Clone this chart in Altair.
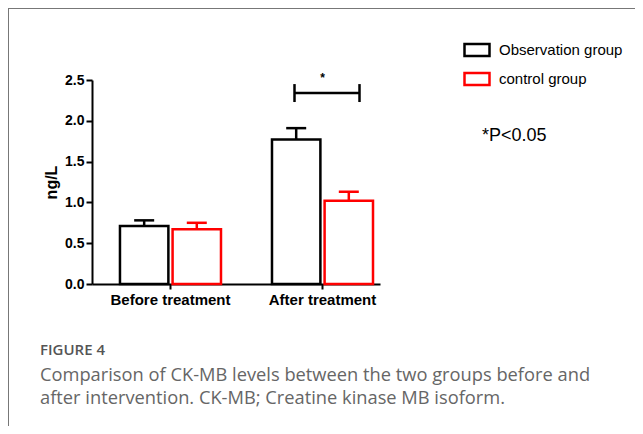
import altair as alt
import pandas as pd

groups = ["Before treatment", "After treatment"]
series = ["Observation group", "control group"]
mean_obs = [0.71, 1.77]
mean_ctrl = [0.67, 1.02]
upper_obs = [0.78, 1.91]
upper_ctrl = [0.75, 1.13]
y_ticks = [0.0, 0.5, 1.0, 1.5, 2.0, 2.5]
sig_group = ["After treatment"]
sig_y = [2.34]
sig_y_low = [2.23]
sig_y_high = [2.45]
star_y = [2.52]
note_text = ["*P<0.05"]
caption_title = ["FIGURE 4"]
caption_lines = [
    "Comparison of CK-MB levels between the two groups before and",
    "after intervention. CK-MB; Creatine kinase MB isoform.",
]

rows = []
for i, g in enumerate(groups):
    rows.append(dict(group=g, series=series[0], mean=mean_obs[i], upper=upper_obs[i]))
    rows.append(dict(group=g, series=series[1], mean=mean_ctrl[i], upper=upper_ctrl[i]))
df = pd.DataFrame(rows)

sig_df = pd.DataFrame(dict(group=sig_group, y=sig_y, ylo=sig_y_low, yhi=sig_y_high, star=star_y))

FONT = "Liberation Sans"
W, H = 288, 204
PAD = dict(left=84, top=72, right=255, bottom=142)

x_enc = alt.X(
    "group:N", sort=groups,
    scale=alt.Scale(domain=groups, paddingInner=0.3355, paddingOuter=0.115, align=0.8),
    axis=alt.Axis(title=None, labelAngle=0, labelFont=FONT, labelFontSize=15, labelFontWeight="bold",
                  labelColor="black", domainColor="black", domainWidth=2, tickColor="black",
                  tickWidth=2, tickSize=5, labelPadding=3),
)
y_scale = alt.Scale(domain=[0, 2.5], nice=False, zero=True)
y_enc = alt.Y(
    "mean:Q", scale=y_scale,
    axis=alt.Axis(title="ng/L", values=y_ticks, format=".1f", grid=False, labelFont=FONT,
                  labelFontSize=14, labelFontWeight="bold", labelColor="black",
                  domainColor="black", domainWidth=2, tickColor="black", tickWidth=2,
                  tickSize=6, labelPadding=2, titleFont=FONT, titleFontSize=16,
                  titleFontWeight="bold", titleColor="black", titlePadding=5),
)
xoff = alt.XOffset("series:N", sort=series,
                   scale=alt.Scale(domain=series, paddingInner=0.08, paddingOuter=0))
stroke_scale = alt.Scale(domain=series, range=["#000000", "#ff0000"])
legend_spec = alt.Legend(title=None, orient="none", legendX=371, legendY=-44, padding=0,
                         symbolType="M-1,-0.48H1V0.48H-1Z", symbolSize=625,
                         symbolStrokeWidth=2.5, labelFont=FONT,
                         labelFontSize=15, labelColor="black", labelOffset=8, rowPadding=4)
stroke_leg = alt.Stroke("series:N", sort=series, scale=stroke_scale, legend=legend_spec)
fill_leg = alt.Fill("series:N", sort=series,
                    scale=alt.Scale(domain=series, range=["#ffffff", "#ffffff"]),
                    legend=legend_spec)
stroke_noleg = alt.Stroke("series:N", sort=series, scale=stroke_scale, legend=None)

base = alt.Chart(df)

bars = base.mark_bar(strokeWidth=2.5, fillOpacity=1).encode(
    x=x_enc, xOffset=xoff, y=y_enc, stroke=stroke_leg, fill=fill_leg
)
err = base.mark_rule(strokeWidth=2.5).encode(
    x=x_enc, xOffset=xoff, y=alt.Y("mean:Q", scale=y_scale), y2="upper:Q", stroke=stroke_noleg
)
caps = base.mark_tick(size=20, thickness=2.5, orient="horizontal", opacity=1).encode(
    x=x_enc, xOffset=xoff, y=alt.Y("upper:Q", scale=y_scale), color=alt.Color(
        "series:N", sort=series, scale=stroke_scale, legend=None)
)

sig = alt.Chart(sig_df)
bracket_h = sig.mark_tick(size=65, thickness=2.5, orient="horizontal", xOffset=4.5,
                          color="black", opacity=1).encode(
    x=alt.X("group:N", sort=groups), y=alt.Y("y:Q", scale=y_scale)
)
bracket_l = sig.mark_rule(strokeWidth=2.5, xOffset=-28, color="black").encode(
    x=alt.X("group:N", sort=groups), y=alt.Y("ylo:Q", scale=y_scale), y2="yhi:Q"
)
bracket_r = sig.mark_rule(strokeWidth=2.5, xOffset=37, color="black").encode(
    x=alt.X("group:N", sort=groups), y=alt.Y("ylo:Q", scale=y_scale), y2="yhi:Q"
)
star = sig.mark_text(text="*", font=FONT, fontSize=12, fontWeight="bold", color="black",
                     baseline="middle").encode(
    x=alt.X("group:N", sort=groups), y=alt.Y("star:Q", scale=y_scale)
)

note = alt.Chart(pd.DataFrame(dict(t=note_text))).mark_text(
    font=FONT, fontSize=18, color="black", align="left", baseline="middle"
).encode(text="t:N", x=alt.value(390), y=alt.value(56))

cap_head = alt.Chart(pd.DataFrame(dict(t=caption_title))).mark_text(
    font="Open Sans", fontSize=15, fontWeight=600, color="#555555", align="left",
    baseline="alphabetic"
).encode(text="t:N", x=alt.value(-52), y=alt.value(275))

cap_body = alt.Chart(pd.DataFrame(dict(t=[caption_lines]))).mark_text(
    font="Open Sans", fontSize=18.3, color="#666666", align="left",
    baseline="alphabetic", lineHeight=23
).encode(text="t", x=alt.value(-52), y=alt.value(301))

frame_top = alt.Chart(alt.Data(values=[{}])).mark_rule(color="#777777", strokeWidth=1).encode(
    x=alt.value(-84), x2=alt.value(560), y=alt.value(-71.5)
)
frame_left = alt.Chart(alt.Data(values=[{}])).mark_rule(color="#777777", strokeWidth=1).encode(
    x=alt.value(-83.5), y=alt.value(-72), y2=alt.value(350)
)

chart = alt.layer(
    frame_top, frame_left, bars, err, caps, bracket_h, bracket_l, bracket_r, star, note,
    cap_head, cap_body
).properties(
    width=W, height=H,
    autosize=alt.AutoSizeParams(type="none"),
    padding=PAD,
).configure_view(stroke=None)

chart.save("out.html", embed_options={"renderer": "svg", "actions": False})
